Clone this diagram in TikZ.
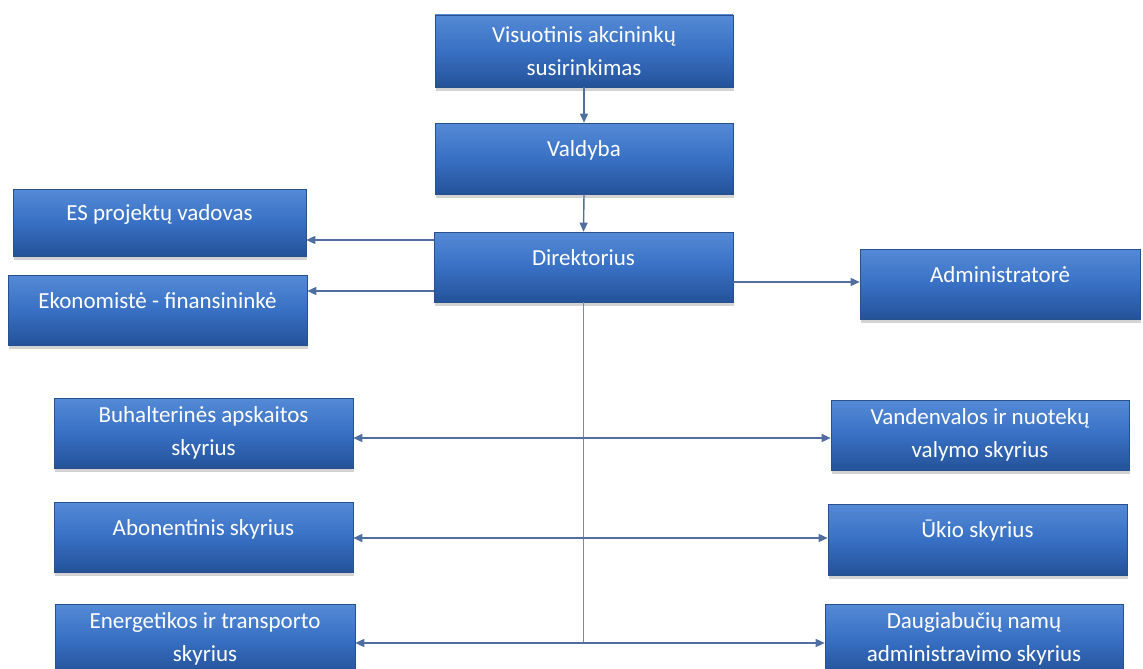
\documentclass[tikz,border=0pt]{standalone}
\usepackage{fontspec}
\newfontfamily\boxfont{Carlito}
\usetikzlibrary{arrows.meta,shadows}
\definecolor{boxtop}{RGB}{84,138,214}
\definecolor{boxmid}{RGB}{56,112,196}
\definecolor{boxbot}{RGB}{36,82,152}
\definecolor{boxline}{RGB}{40,80,140}
\definecolor{arrowc}{RGB}{80,110,160}
\definecolor{trunkc}{RGB}{125,135,180}
\begin{document}
\begin{tikzpicture}[x=1pt,y=-1pt,
  orgbox/.style={rectangle, draw=boxline, line width=0.6pt,
    top color=boxtop, bottom color=boxbot, middle color=boxmid,
    text=white, font=\boxfont\fontsize{23}{33}\selectfont,
    align=center, inner sep=0pt,
    drop shadow={shadow xshift=1pt, shadow yshift=-4pt, opacity=0.35}},
  one/.style={orgbox, text height=17pt, text depth=21pt},
  two/.style={orgbox},
  arr/.style={draw=arrowc, line width=1.4pt, -{Triangle[length=9pt,width=8pt]}},
  trunk/.style={draw=trunkc, line width=1.4pt},
]
\useasboundingbox (0,0) rectangle (1143,669);

\node[two, minimum width=298pt, minimum height=72pt] (vis) at (584,51) {Visuotinis akcininkų\\susirinkimas};
\node[one, minimum width=298pt, minimum height=71pt] (val) at (584,158.5) {Valdyba};
\node[one, minimum width=299pt, minimum height=70pt] (dir) at (583.5,267) {Direktorius};
\node[one, minimum width=293pt, minimum height=67pt] (es) at (159.5,222.5) {ES projektų vadovas};
\node[one, minimum width=299pt, minimum height=70pt] (eko) at (157.5,310) {Ekonomistė - finansininkė};
\node[one, minimum width=280pt, minimum height=70pt] (adm) at (1000,284) {Administratorė};
\node[two, minimum width=299pt, minimum height=70pt] (buh) at (203.5,433) {Buhalterinės apskaitos\\skyrius};
\node[one, minimum width=299pt, minimum height=70pt] (abo) at (203.5,537) {Abonentinis skyrius};
\node[two, minimum width=300pt, minimum height=70pt] (ene) at (205,639) {Energetikos ir transporto\\skyrius};
\node[two, minimum width=298pt, minimum height=70pt] (van) at (980,435) {Vandenvalos ir nuotekų\\valymo skyrius};
\node[one, minimum width=299pt, minimum height=71pt] (uki) at (977.5,539.5) {Ūkio skyrius};
\node[two, minimum width=298pt, minimum height=70pt] (dau) at (974,639) {Daugiabučių namų\\administravimo skyrius};

\draw[arr] (vis.south) -- (val.north);
\draw[arr] (val.south) -- (dir.north);

\coordinate (de1) at (434,240);
\coordinate (de2) at (434,291);
\coordinate (da) at (733,282);
\draw[arr] (de1) -- (de1 -| es.east);
\draw[arr] (de2) -- (de2 -| eko.east);
\draw[arr] (da) -- (da -| adm.west);

\coordinate (t1) at (583.5,438);
\coordinate (t2) at (583.5,538);
\coordinate (t3) at (583.5,643);
\draw[trunk] (dir.south) -- (t3);
\draw[arr] (t1) -- (t1 -| buh.east);
\draw[arr] (t1) -- (t1 -| van.west);
\draw[arr] (t2) -- (t2 -| abo.east);
\draw[arr] (t2) -- (t2 -| uki.west);
\draw[arr] (t3) -- (t3 -| ene.east);
\draw[arr] (t3) -- (t3 -| dau.west);
\end{tikzpicture}
\end{document}
